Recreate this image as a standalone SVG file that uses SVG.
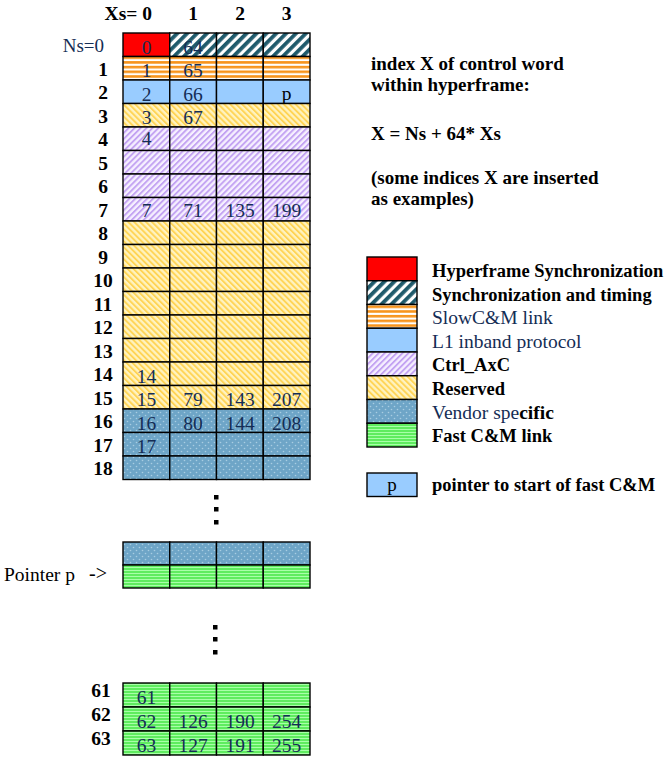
<svg xmlns="http://www.w3.org/2000/svg" width="669" height="760" viewBox="0 0 669 760">
<style>
text{font-family:"Liberation Serif","Times New Roman",serif}
.c{stroke:#000;stroke-width:1.4}
.hf{fill:#ff0000}
.st{fill:url(#pSync)}
.sl{fill:url(#pSlow)}
.l1{fill:#99ccff}
.ct{fill:url(#pCtrl)}
.rs{fill:url(#pRes)}
.vs{fill:url(#pVend)}
.fc{fill:url(#pFast)}
.num{font-size:19.5px;fill:#142d55;text-anchor:middle}
.rl{font-size:19.5px;font-weight:bold;fill:#000;text-anchor:middle}
.hd{font-size:19.5px;font-weight:bold;fill:#000;text-anchor:middle}
.lb{font-size:18.5px;font-weight:bold;fill:#000}
.ds{font-size:19px;font-weight:bold;fill:#000}
.lr{font-size:19.5px;fill:#142d55}
.dot{fill:#000}
</style>
<defs>
<pattern id="pSync" width="7" height="7" patternUnits="userSpaceOnUse" patternTransform="rotate(45)">
<rect width="7" height="7" fill="#fff"/><rect width="3.8" height="7" fill="#1f5a6b"/>
</pattern>
<pattern id="pSlow" width="10" height="4.7" patternUnits="userSpaceOnUse">
<rect width="10" height="4.7" fill="#fff"/><rect y="0" width="10" height="2.6" fill="#f7941d"/>
</pattern>
<pattern id="pCtrl" width="4.2" height="4.2" patternUnits="userSpaceOnUse" patternTransform="rotate(45)">
<rect width="4.2" height="4.2" fill="#f6f0ff"/><rect width="1.9" height="4.2" fill="#c3a3f2"/>
</pattern>
<pattern id="pRes" width="4.2" height="4.2" patternUnits="userSpaceOnUse" patternTransform="rotate(-45)">
<rect width="4.2" height="4.2" fill="#fff3c0"/><rect width="1.9" height="4.2" fill="#ffd455"/>
</pattern>
<pattern id="pVend" width="6" height="6" patternUnits="userSpaceOnUse">
<rect width="6" height="6" fill="#6ea5c7"/><circle cx="1.5" cy="1.5" r="0.8" fill="#a9cde2"/><circle cx="4.5" cy="4.5" r="0.8" fill="#a9cde2"/>
</pattern>
<pattern id="pFast" width="10" height="3" patternUnits="userSpaceOnUse">
<rect width="10" height="3" fill="#5fec5f"/><rect y="0" width="10" height="1" fill="#a8ffa8"/>
</pattern>
</defs>

<g id="column-headers">
<text class="hd" x="152" y="20" style="text-anchor:end">Xs= 0</text>
<text class="hd" x="193" y="20">1</text>
<text class="hd" x="240" y="20">2</text>
<text class="hd" x="286.5" y="20">3</text>
</g>

<g id="row-0">
<text x="104" y="52" style="font-size:19px;fill:#142d55;text-anchor:end">Ns=0</text>
<rect class="c hf" x="123" y="33" width="46.75" height="23.5"/>
<rect class="c st" x="169.75" y="33" width="46.75" height="23.5"/>
<rect class="c st" x="216.5" y="33" width="46.75" height="23.5"/>
<rect class="c st" x="263.25" y="33" width="46.75" height="23.5"/>
<text class="num" x="146.5" y="53.5">0</text><text class="num" x="193" y="53.5">64</text>
</g>
<g id="row-1">
<text class="rl" x="103" y="75.5">1</text>
<rect class="c sl" x="123" y="56.5" width="46.75" height="23.5"/>
<rect class="c sl" x="169.75" y="56.5" width="46.75" height="23.5"/>
<rect class="c sl" x="216.5" y="56.5" width="46.75" height="23.5"/>
<rect class="c sl" x="263.25" y="56.5" width="46.75" height="23.5"/>
<text class="num" x="146.5" y="77">1</text><text class="num" x="193" y="77">65</text>
</g>
<g id="row-2">
<text class="rl" x="103" y="99">2</text>
<rect class="c l1" x="123" y="80" width="46.75" height="23.5"/>
<rect class="c l1" x="169.75" y="80" width="46.75" height="23.5"/>
<rect class="c l1" x="216.5" y="80" width="46.75" height="23.5"/>
<rect class="c l1" x="263.25" y="80" width="46.75" height="23.5"/>
<text class="num" x="146.5" y="100.5">2</text><text class="num" x="193" y="100.5">66</text>
<text class="num" x="286.5" y="99.5" style="fill:#000">p</text>
</g>
<g id="row-3">
<text class="rl" x="103" y="122.5">3</text>
<rect class="c rs" x="123" y="103.5" width="46.75" height="23.5"/>
<rect class="c rs" x="169.75" y="103.5" width="46.75" height="23.5"/>
<rect class="c rs" x="216.5" y="103.5" width="46.75" height="23.5"/>
<rect class="c rs" x="263.25" y="103.5" width="46.75" height="23.5"/>
<text class="num" x="146.5" y="124">3</text><text class="num" x="193" y="124">67</text>
</g>
<g id="row-4">
<text class="rl" x="103" y="146">4</text>
<rect class="c ct" x="123" y="127" width="46.75" height="23.5"/>
<rect class="c ct" x="169.75" y="127" width="46.75" height="23.5"/>
<rect class="c ct" x="216.5" y="127" width="46.75" height="23.5"/>
<rect class="c ct" x="263.25" y="127" width="46.75" height="23.5"/>
<text class="num" x="146.5" y="145">4</text>
</g>
<g id="row-5">
<text class="rl" x="103" y="169.5">5</text>
<rect class="c ct" x="123" y="150.5" width="46.75" height="23.5"/>
<rect class="c ct" x="169.75" y="150.5" width="46.75" height="23.5"/>
<rect class="c ct" x="216.5" y="150.5" width="46.75" height="23.5"/>
<rect class="c ct" x="263.25" y="150.5" width="46.75" height="23.5"/>
</g>
<g id="row-6">
<text class="rl" x="103" y="193">6</text>
<rect class="c ct" x="123" y="174" width="46.75" height="23.5"/>
<rect class="c ct" x="169.75" y="174" width="46.75" height="23.5"/>
<rect class="c ct" x="216.5" y="174" width="46.75" height="23.5"/>
<rect class="c ct" x="263.25" y="174" width="46.75" height="23.5"/>
</g>
<g id="row-7">
<text class="rl" x="103" y="216.5">7</text>
<rect class="c ct" x="123" y="197.5" width="46.75" height="23.5"/>
<rect class="c ct" x="169.75" y="197.5" width="46.75" height="23.5"/>
<rect class="c ct" x="216.5" y="197.5" width="46.75" height="23.5"/>
<rect class="c ct" x="263.25" y="197.5" width="46.75" height="23.5"/>
<text class="num" x="146.5" y="217">7</text><text class="num" x="193" y="217">71</text><text class="num" x="240" y="217">135</text><text class="num" x="286.5" y="217">199</text>
</g>
<g id="row-8">
<text class="rl" x="103" y="240">8</text>
<rect class="c rs" x="123" y="221" width="46.75" height="23.5"/>
<rect class="c rs" x="169.75" y="221" width="46.75" height="23.5"/>
<rect class="c rs" x="216.5" y="221" width="46.75" height="23.5"/>
<rect class="c rs" x="263.25" y="221" width="46.75" height="23.5"/>
</g>
<g id="row-9">
<text class="rl" x="103" y="263.5">9</text>
<rect class="c rs" x="123" y="244.5" width="46.75" height="23.5"/>
<rect class="c rs" x="169.75" y="244.5" width="46.75" height="23.5"/>
<rect class="c rs" x="216.5" y="244.5" width="46.75" height="23.5"/>
<rect class="c rs" x="263.25" y="244.5" width="46.75" height="23.5"/>
</g>
<g id="row-10">
<text class="rl" x="103" y="287">10</text>
<rect class="c rs" x="123" y="268" width="46.75" height="23.5"/>
<rect class="c rs" x="169.75" y="268" width="46.75" height="23.5"/>
<rect class="c rs" x="216.5" y="268" width="46.75" height="23.5"/>
<rect class="c rs" x="263.25" y="268" width="46.75" height="23.5"/>
</g>
<g id="row-11">
<text class="rl" x="103" y="310.5">11</text>
<rect class="c rs" x="123" y="291.5" width="46.75" height="23.5"/>
<rect class="c rs" x="169.75" y="291.5" width="46.75" height="23.5"/>
<rect class="c rs" x="216.5" y="291.5" width="46.75" height="23.5"/>
<rect class="c rs" x="263.25" y="291.5" width="46.75" height="23.5"/>
</g>
<g id="row-12">
<text class="rl" x="103" y="334">12</text>
<rect class="c rs" x="123" y="315" width="46.75" height="23.5"/>
<rect class="c rs" x="169.75" y="315" width="46.75" height="23.5"/>
<rect class="c rs" x="216.5" y="315" width="46.75" height="23.5"/>
<rect class="c rs" x="263.25" y="315" width="46.75" height="23.5"/>
</g>
<g id="row-13">
<text class="rl" x="103" y="357.5">13</text>
<rect class="c rs" x="123" y="338.5" width="46.75" height="23.5"/>
<rect class="c rs" x="169.75" y="338.5" width="46.75" height="23.5"/>
<rect class="c rs" x="216.5" y="338.5" width="46.75" height="23.5"/>
<rect class="c rs" x="263.25" y="338.5" width="46.75" height="23.5"/>
</g>
<g id="row-14">
<text class="rl" x="103" y="381">14</text>
<rect class="c rs" x="123" y="362" width="46.75" height="23.5"/>
<rect class="c rs" x="169.75" y="362" width="46.75" height="23.5"/>
<rect class="c rs" x="216.5" y="362" width="46.75" height="23.5"/>
<rect class="c rs" x="263.25" y="362" width="46.75" height="23.5"/>
<text class="num" x="146.5" y="382.5">14</text>
</g>
<g id="row-15">
<text class="rl" x="103" y="404.5">15</text>
<rect class="c rs" x="123" y="385.5" width="46.75" height="23.5"/>
<rect class="c rs" x="169.75" y="385.5" width="46.75" height="23.5"/>
<rect class="c rs" x="216.5" y="385.5" width="46.75" height="23.5"/>
<rect class="c rs" x="263.25" y="385.5" width="46.75" height="23.5"/>
<text class="num" x="146.5" y="406">15</text><text class="num" x="193" y="406">79</text><text class="num" x="240" y="406">143</text><text class="num" x="286.5" y="406">207</text>
</g>
<g id="row-16">
<text class="rl" x="103" y="428">16</text>
<rect class="c vs" x="123" y="409" width="46.75" height="23.5"/>
<rect class="c vs" x="169.75" y="409" width="46.75" height="23.5"/>
<rect class="c vs" x="216.5" y="409" width="46.75" height="23.5"/>
<rect class="c vs" x="263.25" y="409" width="46.75" height="23.5"/>
<text class="num" x="146.5" y="429.5">16</text><text class="num" x="193" y="429.5">80</text><text class="num" x="240" y="429.5">144</text><text class="num" x="286.5" y="429.5">208</text>
</g>
<g id="row-17">
<text class="rl" x="103" y="451.5">17</text>
<rect class="c vs" x="123" y="432.5" width="46.75" height="23.5"/>
<rect class="c vs" x="169.75" y="432.5" width="46.75" height="23.5"/>
<rect class="c vs" x="216.5" y="432.5" width="46.75" height="23.5"/>
<rect class="c vs" x="263.25" y="432.5" width="46.75" height="23.5"/>
<text class="num" x="146.5" y="453">17</text>
</g>
<g id="row-18">
<text class="rl" x="103" y="475">18</text>
<rect class="c vs" x="123" y="456" width="46.75" height="23.5"/>
<rect class="c vs" x="169.75" y="456" width="46.75" height="23.5"/>
<rect class="c vs" x="216.5" y="456" width="46.75" height="23.5"/>
<rect class="c vs" x="263.25" y="456" width="46.75" height="23.5"/>
</g>

<g id="ellipsis-1">
<rect class="dot" x="214" y="495" width="4.5" height="4.5"/>
<rect class="dot" x="214" y="507" width="4.5" height="4.5"/>
<rect class="dot" x="214" y="520" width="4.5" height="4.5"/>
</g>

<g id="row-pointer-vendor">
<rect class="c vs" x="123" y="542" width="46.75" height="23"/>
<rect class="c vs" x="169.75" y="542" width="46.75" height="23"/>
<rect class="c vs" x="216.5" y="542" width="46.75" height="23"/>
<rect class="c vs" x="263.25" y="542" width="46.75" height="23"/>
</g>
<g id="row-pointer-fast">
<text x="4" y="581" style="font-size:19.5px;fill:#000">Pointer p</text>
<text x="89" y="580" style="font-size:20px;fill:#000">-&gt;</text>
<rect class="c fc" x="123" y="565" width="46.75" height="23"/>
<rect class="c fc" x="169.75" y="565" width="46.75" height="23"/>
<rect class="c fc" x="216.5" y="565" width="46.75" height="23"/>
<rect class="c fc" x="263.25" y="565" width="46.75" height="23"/>
</g>

<g id="ellipsis-2">
<rect class="dot" x="213" y="625" width="4.5" height="4.5"/>
<rect class="dot" x="213" y="637" width="4.5" height="4.5"/>
<rect class="dot" x="213" y="650" width="4.5" height="4.5"/>
</g>

<g id="row-61">
<text class="rl" x="101" y="697">61</text>
<rect class="c fc" x="123" y="683" width="46.75" height="24"/>
<rect class="c fc" x="169.75" y="683" width="46.75" height="24"/>
<rect class="c fc" x="216.5" y="683" width="46.75" height="24"/>
<rect class="c fc" x="263.25" y="683" width="46.75" height="24"/>
<text class="num" x="146.5" y="704">61</text>
</g>
<g id="row-62">
<text class="rl" x="101" y="721">62</text>
<rect class="c fc" x="123" y="707" width="46.75" height="24"/>
<rect class="c fc" x="169.75" y="707" width="46.75" height="24"/>
<rect class="c fc" x="216.5" y="707" width="46.75" height="24"/>
<rect class="c fc" x="263.25" y="707" width="46.75" height="24"/>
<text class="num" x="146.5" y="728">62</text><text class="num" x="193" y="728">126</text><text class="num" x="240" y="728">190</text><text class="num" x="286.5" y="728">254</text>
</g>
<g id="row-63">
<text class="rl" x="101" y="745">63</text>
<rect class="c fc" x="123" y="731" width="46.75" height="24"/>
<rect class="c fc" x="169.75" y="731" width="46.75" height="24"/>
<rect class="c fc" x="216.5" y="731" width="46.75" height="24"/>
<rect class="c fc" x="263.25" y="731" width="46.75" height="24"/>
<text class="num" x="146.5" y="752">63</text><text class="num" x="193" y="752">127</text><text class="num" x="240" y="752">191</text><text class="num" x="286.5" y="752">255</text>
</g>

<g id="description">
<text class="ds" x="371" y="70">index X of control word</text>
<text class="ds" x="371" y="91">within hyperframe:</text>
<text class="ds" x="371" y="140">X = Ns + 64* Xs</text>
<text class="ds" x="371" y="184">(some indices X are inserted</text>
<text class="ds" x="371" y="205">as examples)</text>
</g>

<g id="legend">
<g id="legend-hyperframe"><rect class="c hf" x="367" y="257" width="50" height="23.75"/><text class="lb" x="432" y="276.5">Hyperframe Synchronization</text></g>
<g id="legend-sync"><rect class="c st" x="367" y="280.75" width="50" height="23.75"/><text class="lb" x="432" y="300.5">Synchronization and timing</text></g>
<g id="legend-slow"><rect class="c sl" x="367" y="304.5" width="50" height="23.75"/><text class="lr" x="432" y="324">SlowC&amp;M link</text></g>
<g id="legend-l1"><rect class="c l1" x="367" y="328.25" width="50" height="23.75"/><text class="lr" x="432" y="347.5">L1 inband protocol</text></g>
<g id="legend-ctrl"><rect class="c ct" x="367" y="352" width="50" height="23.75"/><text class="lb" x="432" y="371">Ctrl_AxC</text></g>
<g id="legend-reserved"><rect class="c rs" x="367" y="375.75" width="50" height="23.75"/><text class="lb" x="432" y="395">Reserved</text></g>
<g id="legend-vendor"><rect class="c vs" x="367" y="399.5" width="50" height="23.75"/><text class="lr" x="432" y="418.5">Vendor spe<tspan style="font-weight:bold;fill:#000">cific</tspan></text></g>
<g id="legend-fast"><rect class="c fc" x="367" y="423.25" width="50" height="23.75"/><text class="lb" x="432" y="442">Fast C&amp;M link</text></g>
<g id="legend-pointer"><rect class="c l1" x="367" y="473" width="50" height="23.5"/><text x="392" y="491" style="font-size:19px;fill:#000;text-anchor:middle">p</text><text class="lb" x="432" y="491">pointer to start of fast C&amp;M</text></g>
</g>
</svg>
